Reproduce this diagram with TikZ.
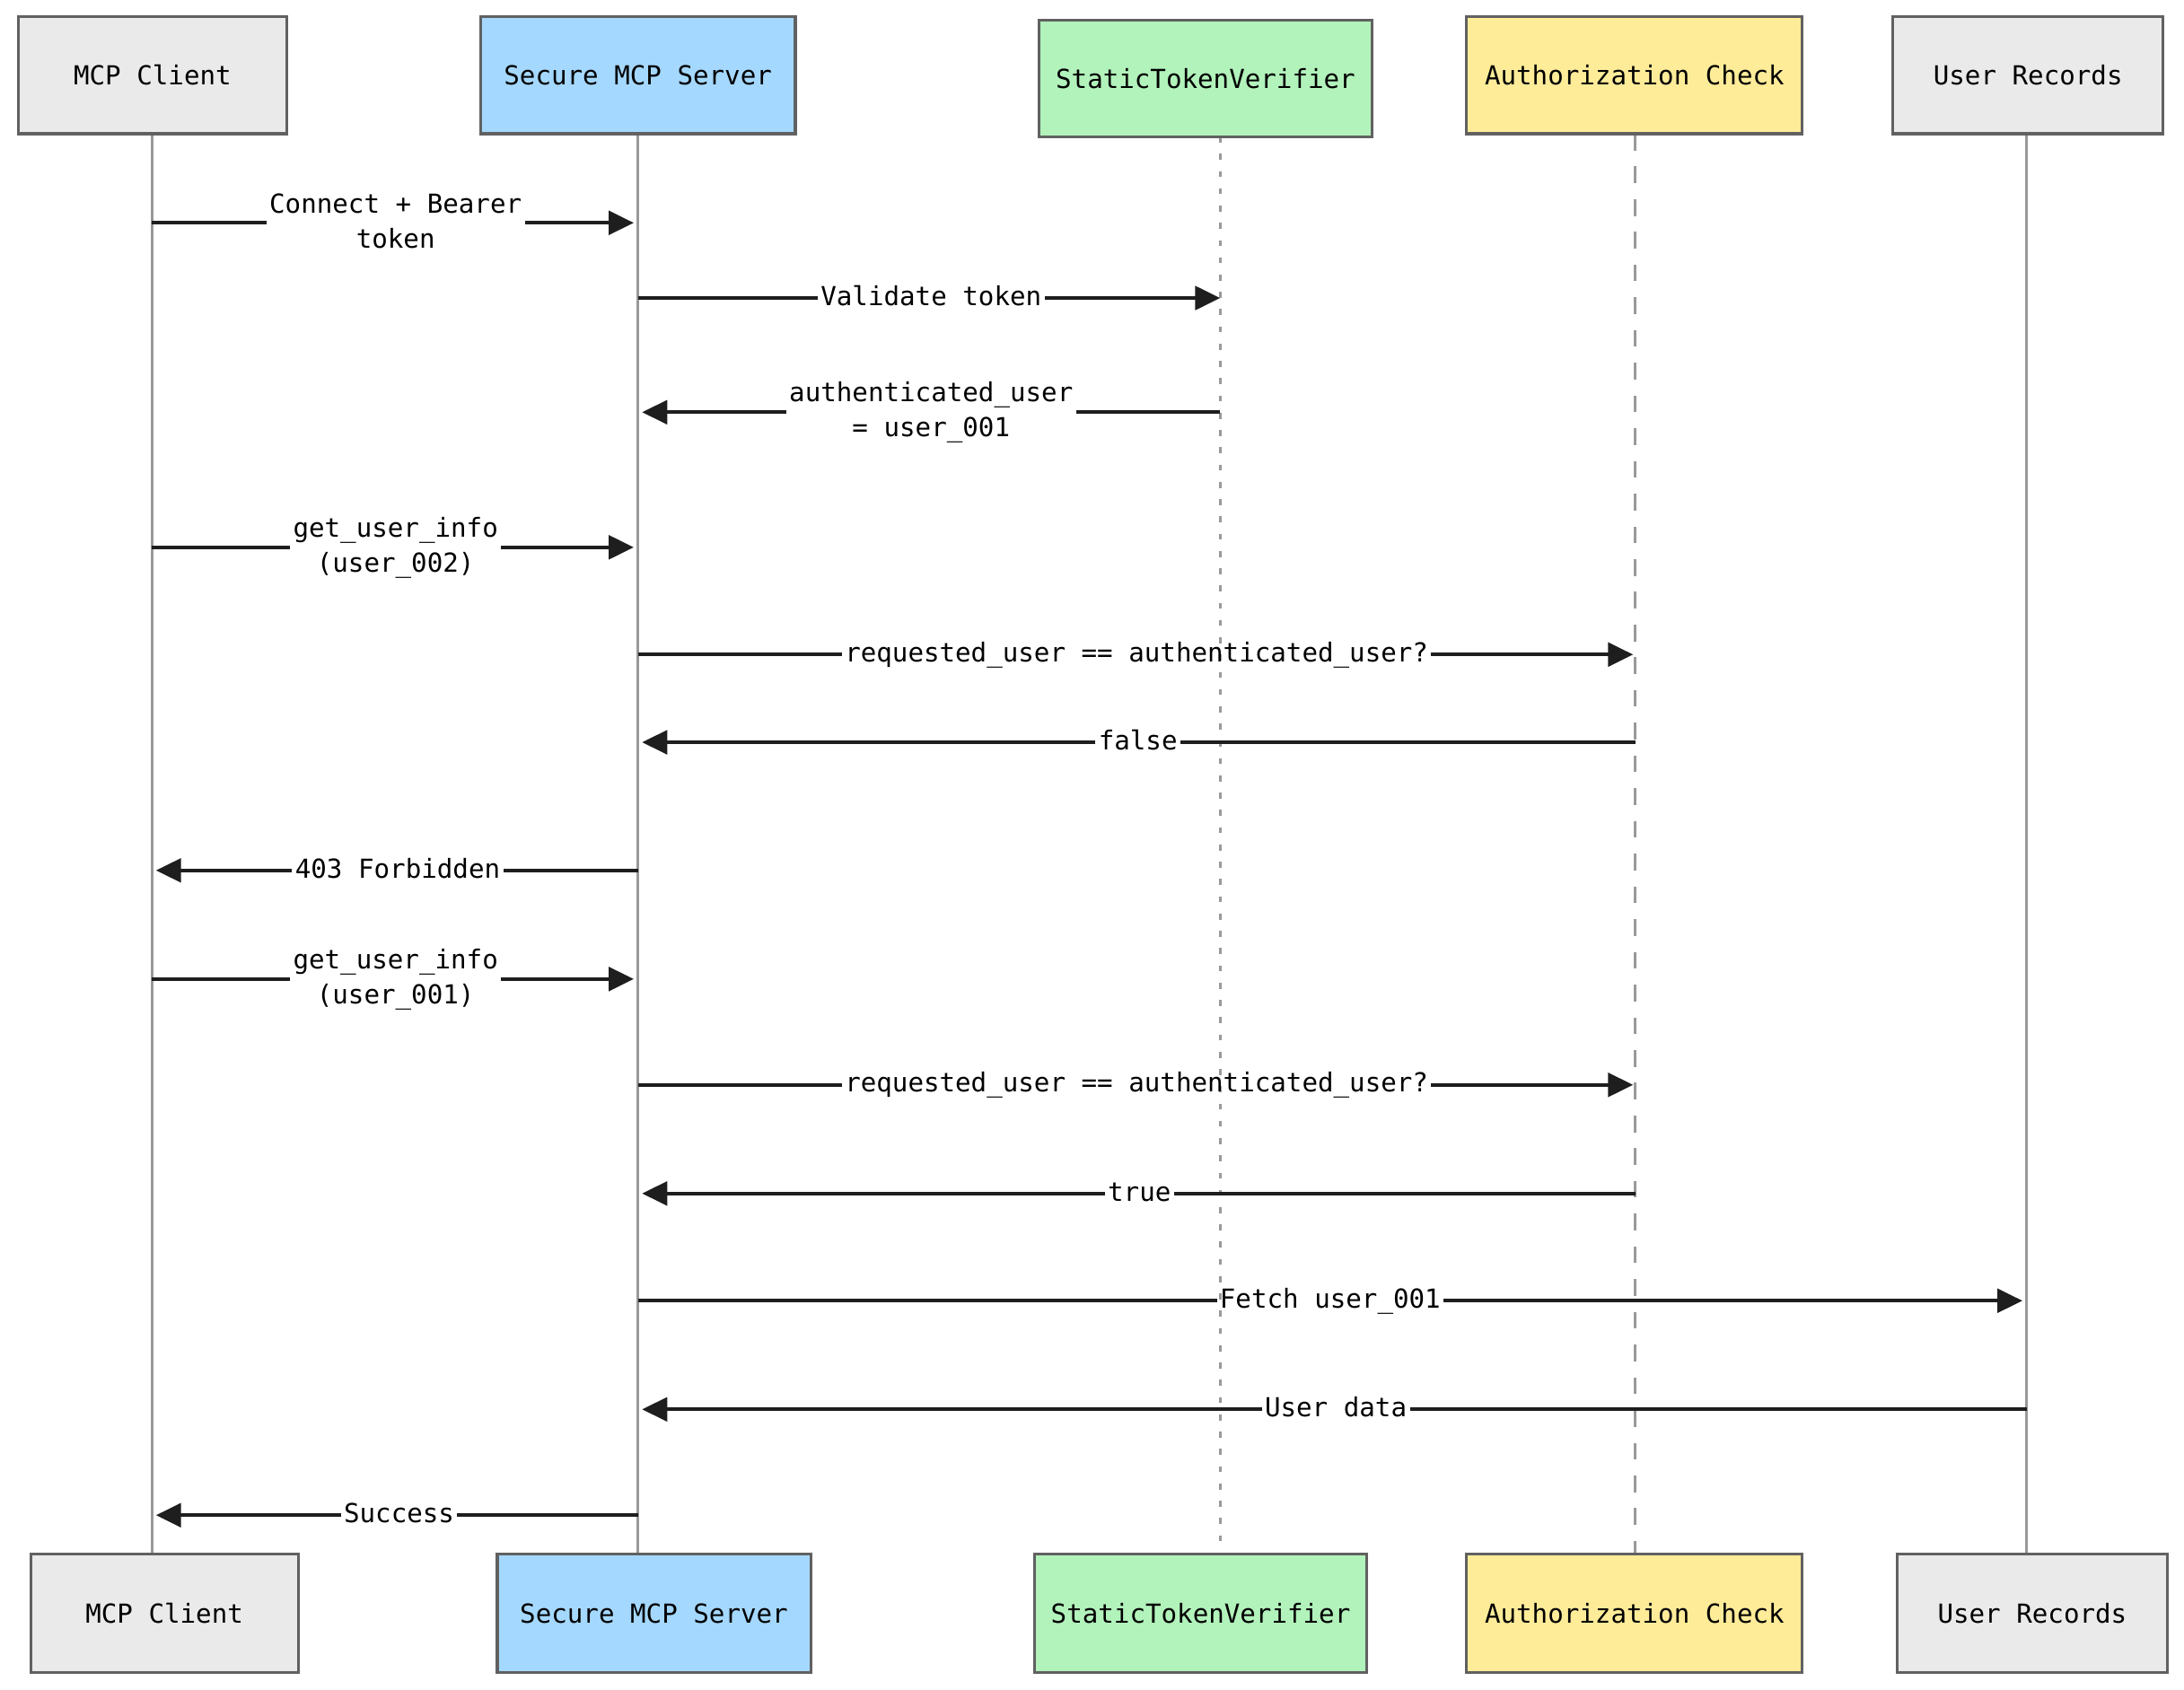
\documentclass[tikz,border=0pt]{standalone}
\usepackage{fontspec}
\newfontfamily\monof{DejaVu Sans Mono}
\usetikzlibrary{arrows.meta}
\definecolor{boxgray}{HTML}{EAEAEA}
\definecolor{boxblue}{HTML}{A5D8FF}
\definecolor{boxgreen}{HTML}{B2F2BB}
\definecolor{boxyellow}{HTML}{FFEC99}
\definecolor{boxborder}{HTML}{616161}
\definecolor{lifegray}{HTML}{999999}
\definecolor{msgcol}{HTML}{1E1E1E}
\newcommand\lstrut{\vrule width 0pt height 14.5pt depth 3.5pt}
\begin{document}
\begin{tikzpicture}[x=1pt,y=-1pt,
  actor/.style={draw=boxborder, line width=2pt, font=\monof\fontsize{18.8}{25}\selectfont, inner sep=0pt},
  life/.style={draw=lifegray, line width=2pt},
  lifedot/.style={life, line width=2.2pt, dash pattern=on 4.3pt off 8.1pt},
  lifedash/.style={life, line width=2.2pt, dash pattern=on 12pt off 11.5pt},
  msg/.style={draw=msgcol, line width=2.6pt},
  msgarr/.style={msg, -{Triangle[length=18pt,width=17pt]}},
  lbl/.style={font=\monof\fontsize{18.8}{25}\selectfont, align=center, inner xsep=2pt, inner ysep=0pt, text=black}
]
\useasboundingbox (0,0) rectangle (1568,1213.5);
% lifeline ends
\coordinate (cA) at (109,96);   \coordinate (cZ) at (109,1116);
\coordinate (sA) at (458,96);   \coordinate (sZ) at (458,1116);
\coordinate (vA) at (876,98);   \coordinate (vZ) at (876,1116);
\coordinate (aA) at (1174,96);  \coordinate (aZ) at (1174,1116);
\coordinate (uA) at (1455,96);  \coordinate (uZ) at (1455,1116);
\draw[life] (cA) -- (cZ);
\draw[life] (sA) -- (sZ);
\draw[lifedot] (vA) -- (vZ);
\draw[lifedash] (aA) -- (aZ);
\draw[life] (uA) -- (uZ);
% top actors
\node[actor, fill=boxgray,   minimum width=193pt, minimum height=84pt] (cT) at (109.5,54) {MCP Client};
\node[actor, fill=boxblue,   minimum width=226pt, minimum height=84pt] (sT) at (458,54) {Secure MCP Server};
\node[actor, fill=boxgreen,  minimum width=239pt, minimum height=84pt] (vT) at (865.5,56.5) {StaticTokenVerifier};
\node[actor, fill=boxyellow, minimum width=241pt, minimum height=84pt] (aT) at (1173.5,54) {Authorization Check};
\node[actor, fill=boxgray,   minimum width=194pt, minimum height=84pt] (uT) at (1456,54) {User Records};
% bottom actors
\node[actor, fill=boxgray,   minimum width=192pt, minimum height=85pt] (cB) at (118,1158.5) {MCP Client};
\node[actor, fill=boxblue,   minimum width=225pt, minimum height=85pt] (sB) at (469.5,1158.5) {Secure MCP Server};
\node[actor, fill=boxgreen,  minimum width=238pt, minimum height=85pt] (vB) at (862,1158.5) {StaticTokenVerifier};
\node[actor, fill=boxyellow, minimum width=241pt, minimum height=85pt] (aB) at (1173.5,1158.5) {Authorization Check};
\node[actor, fill=boxgray,   minimum width=194pt, minimum height=85pt] (uB) at (1459,1158.5) {User Records};
% messages
\node[lbl] (m1) at (284,160) {\lstrut Connect + Bearer\\\lstrut token};
\draw[msg] (cA |- m1) -- (m1.west);
\draw[msgarr, shorten >=3pt] (m1.east) -- (sA |- m1);

\node[lbl] (m2) at (668.5,214) {\lstrut Validate token};
\draw[msg] (sA |- m2) -- (m2.west);
\draw[msgarr] (m2.east) -- (vA |- m2);

\node[lbl] (m3) at (668.5,296) {\lstrut authenticated\_user\\\lstrut = user\_001};
\draw[msg] (vA |- m3) -- (m3.east);
\draw[msgarr, shorten >=3pt] (m3.west) -- (sA |- m3);

\node[lbl] (m4) at (284,393) {\lstrut get\_user\_info\\\lstrut (user\_002)};
\draw[msg] (cA |- m4) -- (m4.west);
\draw[msgarr, shorten >=3pt] (m4.east) -- (sA |- m4);

\node[lbl] (m5) at (816,470) {\lstrut requested\_user == authenticated\_user?};
\draw[msg] (sA |- m5) -- (m5.west);
\draw[msgarr, shorten >=1.5pt] (m5.east) -- (aA |- m5);

\node[lbl] (m6) at (817,533) {\lstrut false};
\draw[msg] (aA |- m6) -- (m6.east);
\draw[msgarr, shorten >=3pt] (m6.west) -- (sA |- m6);

\node[lbl] (m7) at (285.5,625) {\lstrut 403 Forbidden};
\draw[msg] (sA |- m7) -- (m7.east);
\draw[msgarr, shorten >=3pt] (m7.west) -- (cA |- m7);

\node[lbl] (m8) at (284,703) {\lstrut get\_user\_info\\\lstrut (user\_001)};
\draw[msg] (cA |- m8) -- (m8.west);
\draw[msgarr, shorten >=3pt] (m8.east) -- (sA |- m8);

\node[lbl] (m9) at (816,779) {\lstrut requested\_user == authenticated\_user?};
\draw[msg] (sA |- m9) -- (m9.west);
\draw[msgarr, shorten >=1.5pt] (m9.east) -- (aA |- m9);

\node[lbl] (m10) at (818,857) {\lstrut true};
\draw[msg] (aA |- m10) -- (m10.east);
\draw[msgarr, shorten >=3pt] (m10.west) -- (sA |- m10);

\node[lbl] (m11) at (955,934) {\lstrut Fetch user\_001};
\draw[msg] (sA |- m11) -- (m11.west);
\draw[msgarr, shorten >=3pt] (m11.east) -- (uA |- m11);

\node[lbl] (m12) at (959,1012) {\lstrut User data};
\draw[msg] (uA |- m12) -- (m12.east);
\draw[msgarr, shorten >=3pt] (m12.west) -- (sA |- m12);

\node[lbl] (m13) at (286.5,1088) {\lstrut Success};
\draw[msg] (sA |- m13) -- (m13.east);
\draw[msgarr, shorten >=3pt] (m13.west) -- (cA |- m13);
\end{tikzpicture}
\end{document}
